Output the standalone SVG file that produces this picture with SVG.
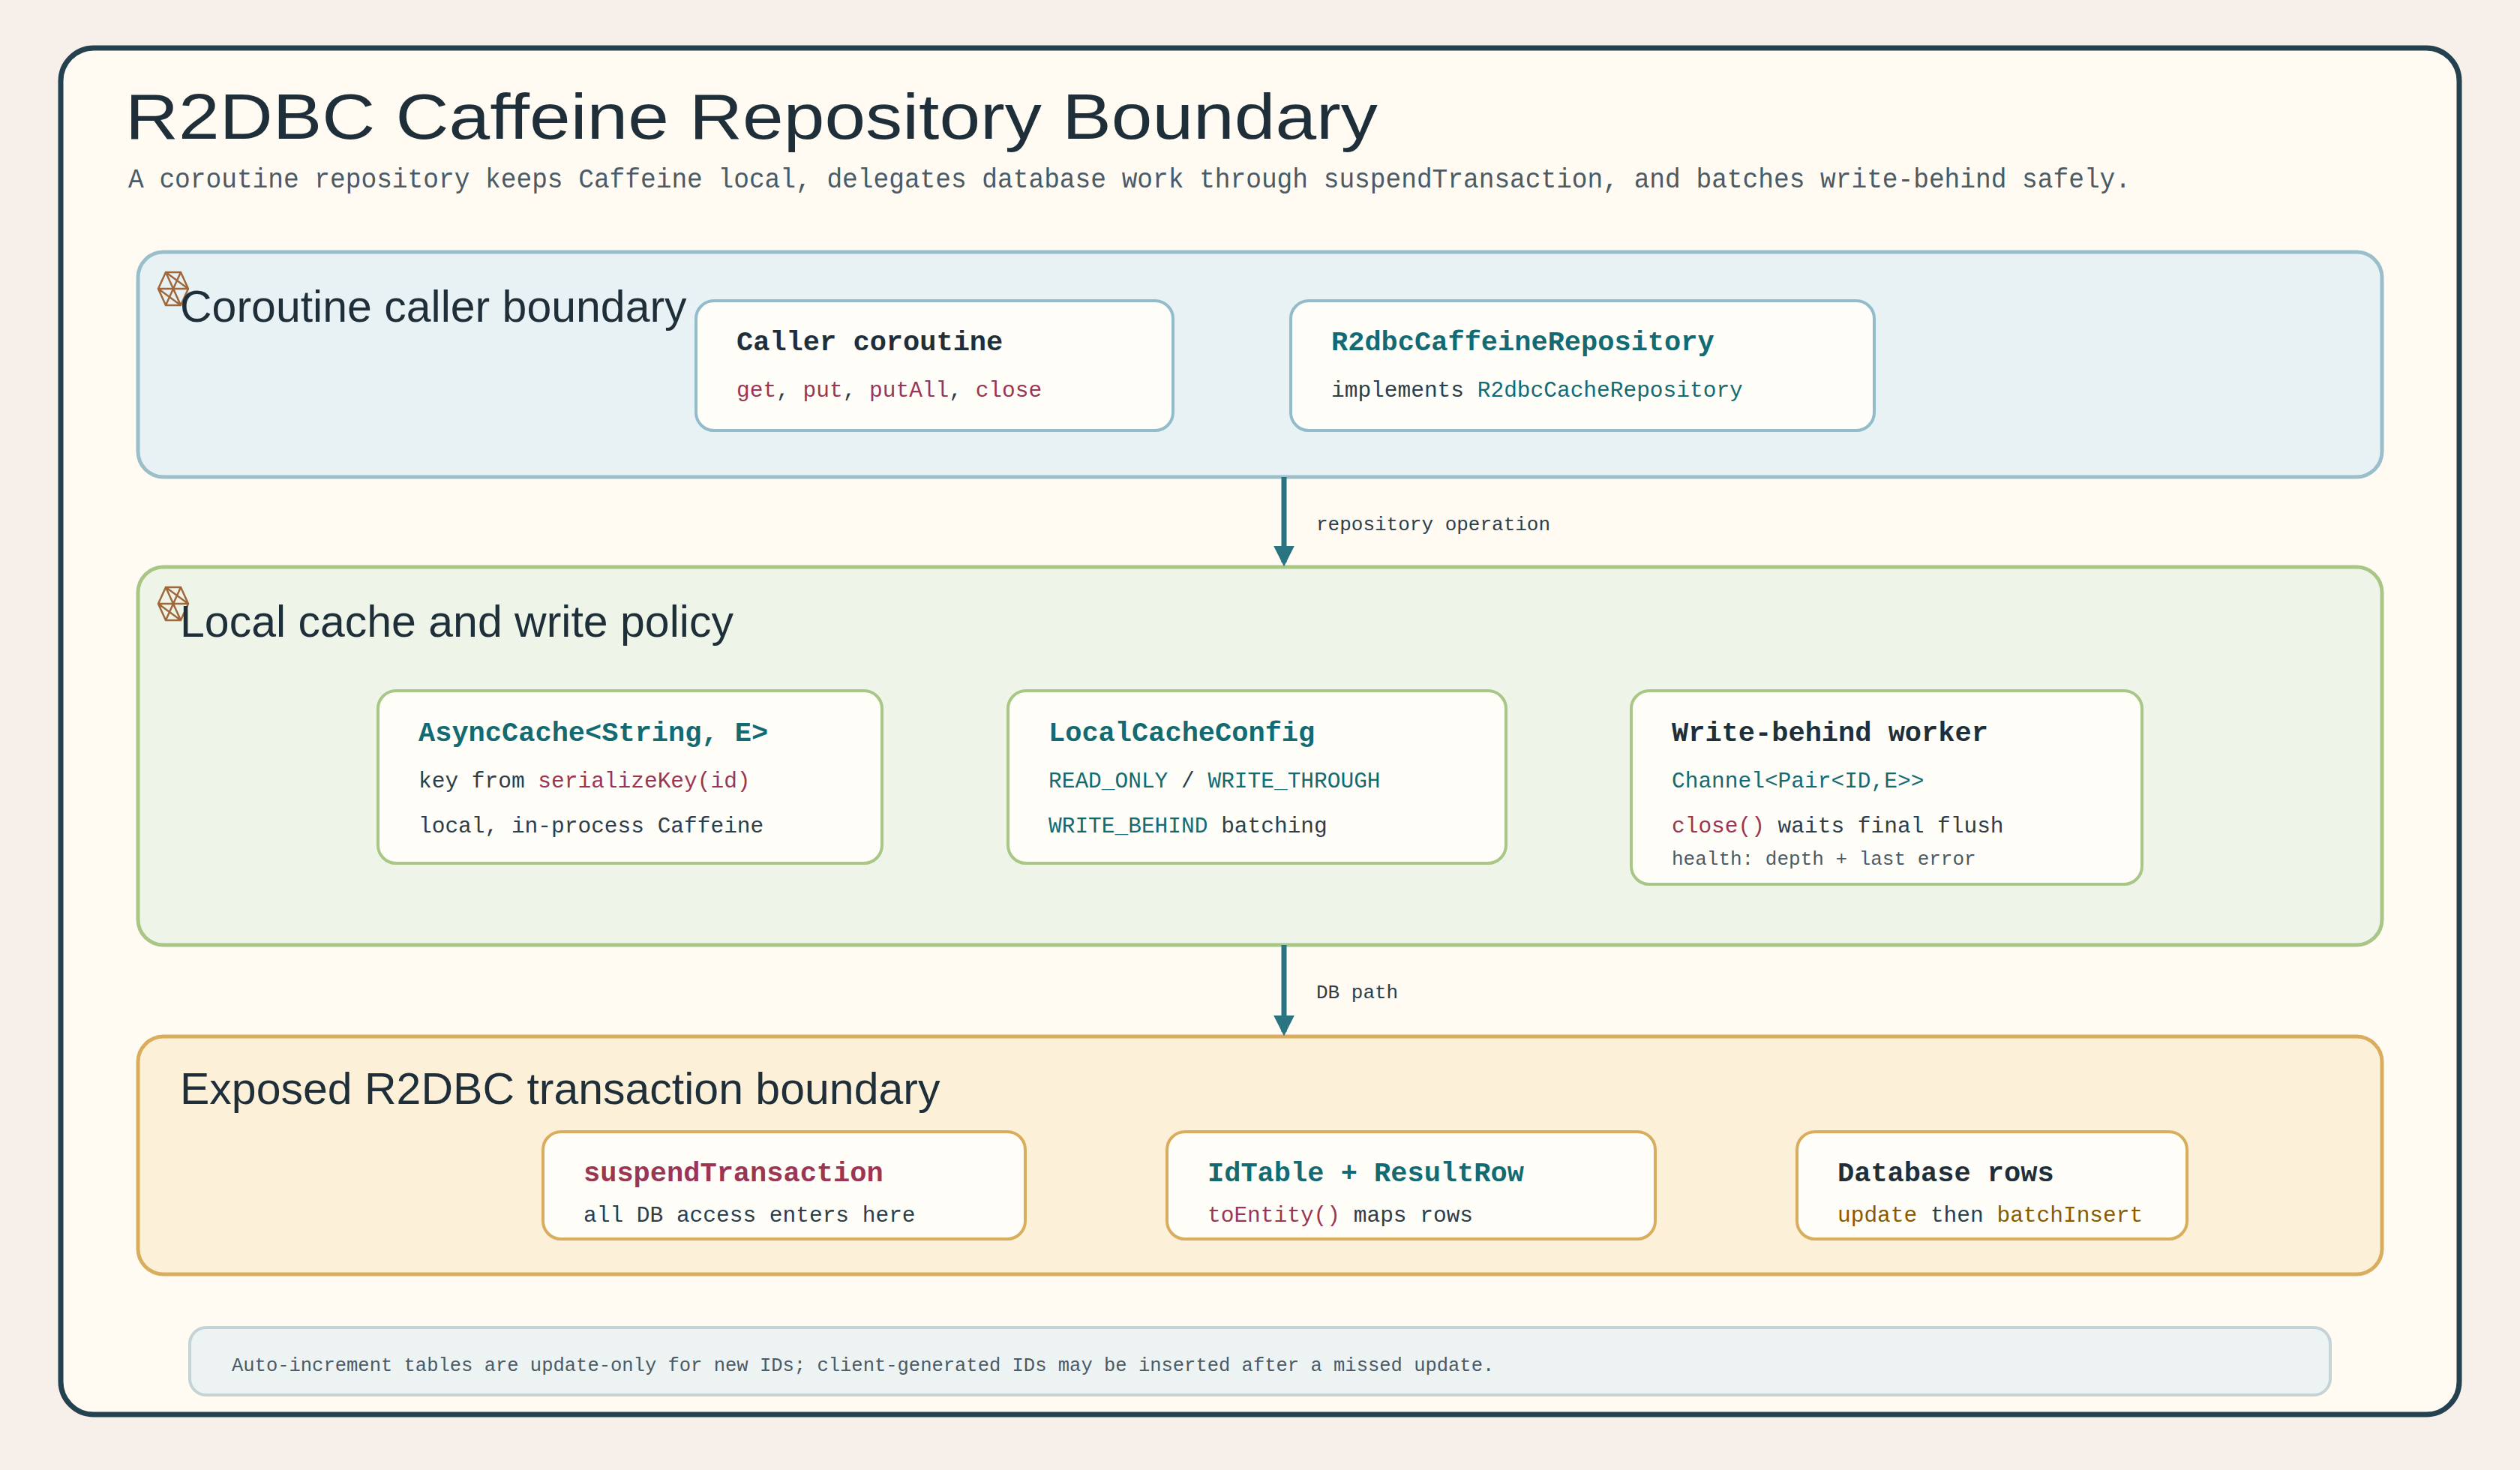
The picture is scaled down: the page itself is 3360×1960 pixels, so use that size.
<svg xmlns="http://www.w3.org/2000/svg" width="3360" height="1960" viewBox="0 0 3360 1960">
<defs>
<style>
.zl{font-family:"Liberation Sans",sans-serif;font-size:59px;fill:#1f2f3a}
.m{font-family:"Liberation Mono","DejaVu Sans Mono",monospace}
.t{font-size:37px;font-weight:bold;fill:#1f2f3a}
.b{font-size:29.5px;fill:#2c3e4a}
.s{font-size:26px;fill:#4a5a66}
.teal{fill:#126b73}
.red{fill:#9b3553}
.amb{fill:#8a5a00}
.node{fill:#fffdf7;stroke-width:4}
.conn{stroke:#2a7380;stroke-width:7;fill:none}
.cl{font-family:"Liberation Mono",monospace;font-size:26px;fill:#2c3e4a}
.ico{fill:none;stroke:#a0673a;stroke-width:2.5}
</style>
<marker id="ah" viewBox="0 0 10 10" refX="8" refY="5" markerWidth="4" markerHeight="4" orient="auto"><path d="M0,0L10,5L0,10z" fill="#2a7380"/></marker>
<symbol id="icon" viewBox="0 0 50 50"><path class="ico" d="M15,3h20l10,22-10,22h-20l-10-22z M15,3l10,22-10,22 M35,3l-10,22 10,22 M5,25h40 M15,3l30,22 M35,47l-30-22"/></symbol>
</defs>
<rect width="3360" height="1960" fill="#f7efe9"/>
<rect x="81" y="64" width="3198" height="1822" rx="44" fill="#fffaf2" stroke="#23414f" stroke-width="7"/>
<text x="167" y="185" font-family="Liberation Sans,sans-serif" font-size="86" fill="#1f2f3a" textLength="1670" lengthAdjust="spacingAndGlyphs">R2DBC Caffeine Repository Boundary</text>
<text x="171" y="250" class="m" font-size="37" fill="#4a5a66" textLength="2670" lengthAdjust="spacingAndGlyphs">A coroutine repository keeps Caffeine local, delegates database work through suspendTransaction, and batches write-behind safely.</text>

<g id="zone-caller">
<rect x="184" y="336" width="2992" height="300" rx="34" fill="#e8f1f4" stroke="#9bbfca" stroke-width="5"/>
<use href="#icon" x="206" y="360" width="50" height="50"/>
<text x="240" y="429" class="zl">Coroutine caller boundary</text>
</g>
<g id="node-caller">
<rect x="928" y="401" width="636" height="173" rx="24" class="node" stroke="#93bccb"/>
<text x="982" y="467" class="m t">Caller coroutine</text>
<text x="982" y="529" class="m b"><tspan class="red">get</tspan>, <tspan class="red">put</tspan>, <tspan class="red">putAll</tspan>, <tspan class="red">close</tspan></text>
</g>
<g id="node-repo">
<rect x="1721" y="401" width="778" height="173" rx="24" class="node" stroke="#93bccb"/>
<text x="1775" y="467" class="m t teal">R2dbcCaffeineRepository</text>
<text x="1775" y="529" class="m b">implements <tspan class="teal">R2dbcCacheRepository</tspan></text>
</g>

<g id="zone-local">
<rect x="184" y="756" width="2992" height="504" rx="34" fill="#eef5e8" stroke="#a8c686" stroke-width="5"/>
<use href="#icon" x="206" y="780" width="50" height="50"/>
<text x="240" y="849" class="zl">Local cache and write policy</text>
</g>
<g id="node-async">
<rect x="504" y="921" width="672" height="230" rx="24" class="node" stroke="#a8c686"/>
<text x="558" y="988" class="m t teal">AsyncCache&lt;String, E&gt;</text>
<text x="558" y="1050" class="m b">key from <tspan class="red">serializeKey(id)</tspan></text>
<text x="558" y="1110" class="m b">local, in-process Caffeine</text>
</g>
<g id="node-config">
<rect x="1344" y="921" width="664" height="230" rx="24" class="node" stroke="#a8c686"/>
<text x="1398" y="988" class="m t teal">LocalCacheConfig</text>
<text x="1398" y="1050" class="m b"><tspan class="teal">READ_ONLY</tspan> / <tspan class="teal">WRITE_THROUGH</tspan></text>
<text x="1398" y="1110" class="m b"><tspan class="teal">WRITE_BEHIND</tspan> batching</text>
</g>
<g id="node-worker">
<rect x="2175" y="921" width="681" height="258" rx="24" class="node" stroke="#a8c686"/>
<text x="2229" y="988" class="m t">Write-behind worker</text>
<text x="2229" y="1050" class="m b teal">Channel&lt;Pair&lt;ID,E&gt;&gt;</text>
<text x="2229" y="1110" class="m b"><tspan class="red">close()</tspan> waits final flush</text>
<text x="2229" y="1153" class="m s">health: depth + last error</text>
</g>

<g id="zone-db">
<rect x="184" y="1382" width="2992" height="317" rx="34" fill="#fdf0d8" stroke="#d9ad5e" stroke-width="5"/>
<text x="240" y="1472" class="zl">Exposed R2DBC transaction boundary</text>
</g>
<g id="node-tx">
<rect x="724" y="1509" width="643" height="143" rx="24" class="node" stroke="#d9ad5e"/>
<text x="778" y="1575" class="m t red">suspendTransaction</text>
<text x="778" y="1629" class="m b">all DB access enters here</text>
</g>
<g id="node-idtable">
<rect x="1556" y="1509" width="651" height="143" rx="24" class="node" stroke="#d9ad5e"/>
<text x="1610" y="1575" class="m t teal">IdTable + ResultRow</text>
<text x="1610" y="1629" class="m b"><tspan class="red">toEntity()</tspan> maps rows</text>
</g>
<g id="node-rows">
<rect x="2396" y="1509" width="520" height="143" rx="24" class="node" stroke="#d9ad5e"/>
<text x="2450" y="1575" class="m t">Database rows</text>
<text x="2450" y="1629" class="m b"><tspan class="amb">update</tspan> then <tspan class="amb">batchInsert</tspan></text>
</g>

<g id="connectors">
<line x1="1712" y1="636" x2="1712" y2="750" class="conn" marker-end="url(#ah)"/>
<text x="1755" y="707" class="cl">repository operation</text>
<line x1="1712" y1="1260" x2="1712" y2="1376" class="conn" marker-end="url(#ah)"/>
<text x="1755" y="1331" class="cl">DB path</text>
</g>

<g id="footnote">
<rect x="253" y="1770" width="2854" height="90" rx="22" fill="#edf3f3" stroke="#c3d3d6" stroke-width="4"/>
<text x="309" y="1828" class="m" font-size="25.5" fill="#4a5a66">Auto-increment tables are update-only for new IDs; client-generated IDs may be inserted after a missed update.</text>
</g>
</svg>
